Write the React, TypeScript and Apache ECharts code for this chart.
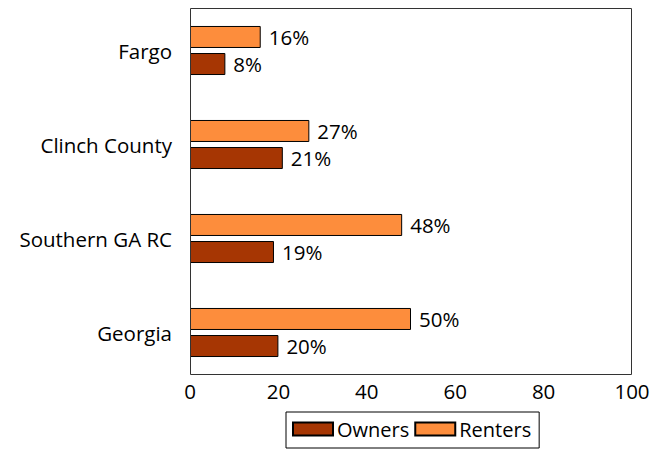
import React, { useEffect, useRef } from "react";
import * as echarts from "echarts";

const categories = ["Georgia", "Southern GA RC", "Clinch County", "Fargo"];
const owners = [20, 19, 21, 8];
const renters = [50, 48, 27, 16];
const xTicks = [0, 20, 40, 60, 80, 100];

const FONT = "Open Sans";
const FS = 20.5;

export default function App() {
  const ref = useRef<HTMLDivElement>(null);
  useEffect(() => {
    if (!ref.current) return;
    const chart = echarts.init(ref.current, null, { renderer: "svg" });
    const label = {
      show: true,
      position: "right",
      distance: 8,
      formatter: "{c}%",
      fontSize: FS,
      color: "#000",
      fontFamily: FONT,
    };
    chart.setOption({
      animation: false,
      textStyle: { fontFamily: FONT },
      grid: { left: 190, right: 35, top: 3.5, bottom: 69.5, containLabel: false },
      xAxis: {
        type: "value",
        min: xTicks[0],
        max: xTicks[xTicks.length - 1],
        interval: 20,
        axisLine: { show: false },
        axisTick: { show: false },
        splitLine: { show: false },
        axisLabel: { fontSize: FS, color: "#000", margin: 1, fontFamily: FONT },
      },
      yAxis: {
        type: "category",
        data: categories,
        axisLine: { show: false },
        axisTick: { show: false },
        axisLabel: { fontSize: FS, color: "#000", margin: 18, fontFamily: FONT },
      },
      legend: {
        data: ["Owners", "Renters"],
        left: 286,
        top: 412,
        orient: "horizontal",
        itemWidth: 40,
        itemHeight: 13,
        itemGap: 5,
        padding: [7, 8, 9, 6],
        borderColor: "#000",
        borderWidth: 1,
        borderRadius: 0,
        icon: "rect",
        textStyle: { fontSize: 20, color: "#000", fontFamily: FONT, padding: [0, 0, 0, -1] },
      },
      graphic: [
        {
          type: "rect",
          z: 100,
          shape: { x: 190.5, y: 8.5, width: 441, height: 366 },
          style: { fill: "none", stroke: "#333", lineWidth: 1 },
          silent: true,
        },
      ],
      series: [
        {
          name: "Renters",
          type: "bar",
          data: renters,
          barWidth: 22,
          barGap: "23%",
          itemStyle: { color: "#FD8D3C", borderColor: "#000", borderWidth: 1 },
          label,
        },
        {
          name: "Owners",
          type: "bar",
          data: owners,
          barWidth: 22,
          barGap: "23%",
          itemStyle: { color: "#A63603", borderColor: "#000", borderWidth: 1 },
          label,
        },
      ],
    });
    return () => chart.dispose();
  }, []);
  return <div ref={ref} style={{ width: 667, height: 449, position: "absolute", left: 0, top: 0 }} />;
}
